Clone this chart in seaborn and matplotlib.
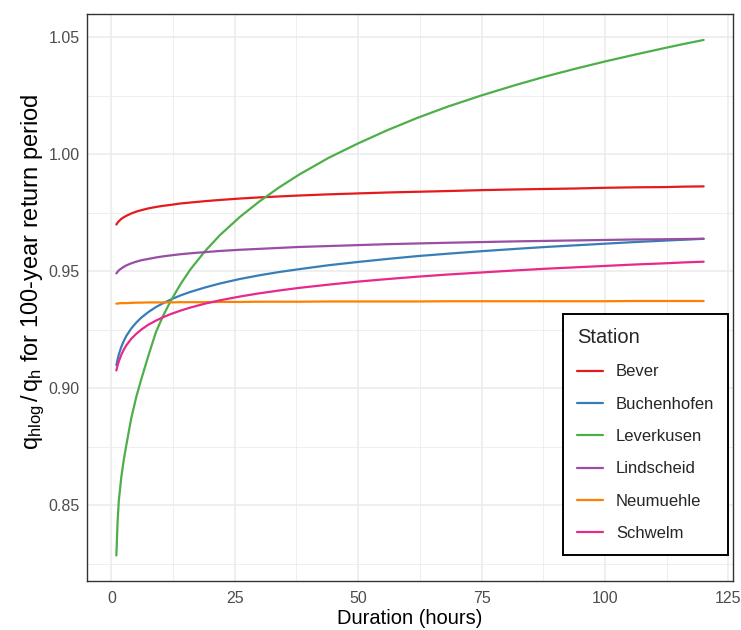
import numpy as np
import pandas as pd
import matplotlib
matplotlib.use("Agg")
import matplotlib.pyplot as plt
import seaborn as sns
from matplotlib.ticker import MultipleLocator

# ---- data ----
durations = [1, 1.25, 1.5, 2, 2.5, 3, 4, 5, 6, 7.5, 9, 10.5, 12, 14, 16, 19, 22, 26, 30,
             34, 38, 44, 50, 56, 62, 68, 75, 82, 88, 94, 100, 106, 112, 116, 120]

bever = [0.9700, 0.9708, 0.9714, 0.9724, 0.9731, 0.9737, 0.9747, 0.9755, 0.9761, 0.9769,
         0.9775, 0.9780, 0.9784, 0.9790, 0.9794, 0.9800, 0.9805, 0.9811, 0.9816, 0.9820,
         0.9824, 0.9829, 0.9833, 0.9837, 0.9840, 0.9843, 0.9847, 0.9850, 0.9852, 0.9854,
         0.9857, 0.9859, 0.9860, 0.9862, 0.9863]
buchenhofen = [0.9099, 0.9124, 0.9145, 0.9177, 0.9202, 0.9223, 0.9255, 0.9280, 0.9301, 0.9326,
               0.9347, 0.9364, 0.9379, 0.9397, 0.9412, 0.9431, 0.9448, 0.9467, 0.9483, 0.9497,
               0.9509, 0.9526, 0.9540, 0.9553, 0.9565, 0.9575, 0.9586, 0.9596, 0.9604, 0.9611,
               0.9618, 0.9625, 0.9631, 0.9635, 0.9639]
leverkusen = [0.8285, 0.8430, 0.8520, 0.8620, 0.8694, 0.8755, 0.8870, 0.8960, 0.9035, 0.9140,
              0.9239, 0.9311, 0.9373, 0.9445, 0.9508, 0.9587, 0.9655, 0.9732, 0.9799, 0.9859,
              0.9913, 0.9985, 1.0047, 1.0104, 1.0156, 1.0203, 1.0252, 1.0297, 1.0333, 1.0366,
              1.0397, 1.0426, 1.0454, 1.0472, 1.0489]
lindscheid = [0.9491, 0.9498, 0.9504, 0.9512, 0.9519, 0.9525, 0.9534, 0.9541, 0.9547, 0.9553,
              0.9559, 0.9564, 0.9568, 0.9573, 0.9577, 0.9582, 0.9587, 0.9592, 0.9596, 0.9600,
              0.9604, 0.9608, 0.9612, 0.9616, 0.9619, 0.9622, 0.9625, 0.9628, 0.9630, 0.9632,
              0.9634, 0.9636, 0.9637, 0.9638, 0.9639]
neumuehle = [0.9362, 0.9362, 0.9363, 0.9364, 0.9364, 0.9364, 0.9365, 0.9366, 0.9366, 0.9367,
             0.9367, 0.9367, 0.9367, 0.9368, 0.9368, 0.9368, 0.9369, 0.9369, 0.9370, 0.9370,
             0.9370, 0.9371, 0.9371, 0.9371, 0.9371, 0.9372, 0.9372, 0.9372, 0.9372, 0.9372,
             0.9372, 0.9373, 0.9373, 0.9373, 0.9373]
schwelm = [0.9076, 0.9098, 0.9115, 0.9143, 0.9165, 0.9183, 0.9211, 0.9232, 0.9250, 0.9272,
           0.9289, 0.9304, 0.9317, 0.9332, 0.9345, 0.9362, 0.9376, 0.9392, 0.9406, 0.9418,
           0.9429, 0.9443, 0.9456, 0.9467, 0.9477, 0.9486, 0.9495, 0.9504, 0.9511, 0.9517,
           0.9523, 0.9529, 0.9534, 0.9538, 0.9541]

stations = ["Bever", "Buchenhofen", "Leverkusen", "Lindscheid", "Neumuehle", "Schwelm"]
series = [bever, buchenhofen, leverkusen, lindscheid, neumuehle, schwelm]
colors = ["#E41A1C", "#377EB8", "#4DAF4A", "#984EA3", "#FF7F00", "#E7298A"]

x_ticks = [0, 25, 50, 75, 100, 125]
y_ticks = [0.85, 0.90, 0.95, 1.00, 1.05]

df = pd.DataFrame({
    "Duration": np.tile(durations, len(stations)),
    "Ratio": np.concatenate(series),
    "Station": np.repeat(stations, len(durations)),
})

# ---- style ----
sns.set_theme(style="white")
plt.rcParams["font.family"] = ["Liberation Sans", "DejaVu Sans"]
plt.rcParams["mathtext.fontset"] = "custom"
plt.rcParams["mathtext.rm"] = "Liberation Sans"
plt.rcParams["mathtext.it"] = "Liberation Sans"

fig = plt.figure(figsize=(7.41, 6.30), dpi=100)
ax = fig.add_axes([87 / 741, 1 - 581 / 630, (733 - 87) / 741, (581 - 14) / 630])

sns.lineplot(data=df, x="Duration", y="Ratio", hue="Station",
             palette=dict(zip(stations, colors)), hue_order=stations,
             linewidth=1.6, ax=ax)

ax.set_xlim(-4.95, 125.95)
ax.set_ylim(0.8176, 1.0600)
ax.set_xticks(x_ticks)
ax.set_xticklabels([str(t) for t in x_ticks])
ax.set_yticks(y_ticks)
ax.set_yticklabels([f"{t:.2f}" for t in y_ticks])
ax.xaxis.set_minor_locator(MultipleLocator(12.5))
ax.yaxis.set_minor_locator(MultipleLocator(0.025))

ax.grid(which="major", color="#EBEBEB", linewidth=1.1)
ax.grid(which="minor", color="#EBEBEB", linewidth=0.55)
ax.set_axisbelow(True)
for s in ax.spines.values():
    s.set_color("#333333")
    s.set_linewidth(1.0)

ax.tick_params(axis="both", which="major", length=3.5, width=1.0, color="#333333",
               labelsize=11.5, labelcolor="#4D4D4D", pad=1.8)
ax.tick_params(axis="x", which="major", pad=3.8)
ax.tick_params(axis="both", which="minor", length=0)

ax.set_xlabel("Duration (hours)", fontsize=14.5, color="black", labelpad=2)
ax.set_ylabel(r"$\mathrm{q_{hlog}}\,/\,\mathrm{q_{h}}$ for 100-year return period", fontsize=17,
              color="black")
ax.yaxis.set_label_coords(-0.062, 0.545)

handles, labels = ax.get_legend_handles_labels()
leg = ax.legend(handles, labels, title="Station", loc="upper left",
                bbox_to_anchor=(563 / 741, 1 - 314.5 / 630), bbox_transform=fig.transFigure,
                frameon=True, fancybox=False, edgecolor="black", framealpha=1,
                fontsize=12, title_fontsize=14.5, handlelength=1.6, handletextpad=0.75,
                labelspacing=1.04, borderpad=0.82, borderaxespad=0)
leg.get_frame().set_linewidth(1.4)
leg._legend_box.align = "left"
for h in leg.get_lines():
    h.set_linewidth(1.6)

fig.savefig("out.png", dpi=100)
